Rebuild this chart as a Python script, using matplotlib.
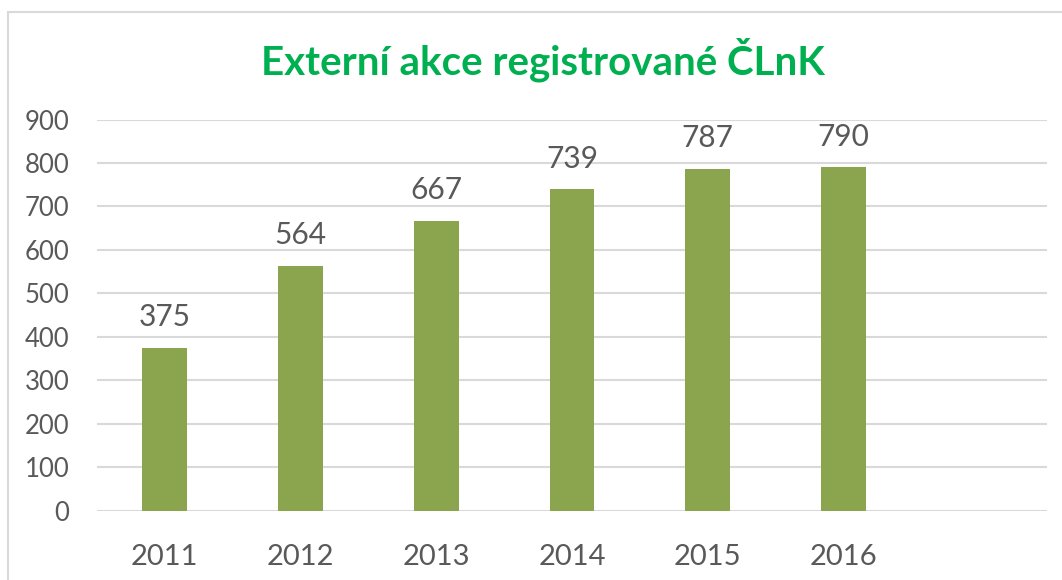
import matplotlib
matplotlib.use("Agg")
import matplotlib.pyplot as plt
from matplotlib.patches import Rectangle

years = ["2011", "2012", "2013", "2014", "2015", "2016"]
values = [375, 564, 667, 739, 787, 790]
yticks = [0, 100, 200, 300, 400, 500, 600, 700, 800, 900]
title = "Externí akce registrované ČLnK"

plt.rcParams['font.family'] = ['Lato', 'DejaVu Sans']

W, H = 1062, 580
fig = plt.figure(figsize=(W / 100, H / 100), dpi=100)
ax = fig.add_axes([97 / W, 1 - 510.7 / H, (1047 - 97) / W, (510.7 - 119.5) / H])

# chart border
fig.add_artist(Rectangle((8 / W, -0.1), 1.2, 1 - 12 / H + 0.1, transform=fig.transFigure,
                         fill=False, edgecolor='#D9D9D9', linewidth=1.5))

x = list(range(len(years)))
bars = ax.bar(x, values, width=0.33, color='#8BA54F', zorder=3)
for xi, v in zip(x, values):
    ax.annotate(str(v), (xi, v), xytext=(0, 12), textcoords='offset points',
                ha='center', va='bottom', fontsize=21.5, color='#595959')

ax.set_xlim(-0.5, 6.5)
ax.set_ylim(0, 900)
ax.set_yticks(yticks)
ax.set_yticklabels([str(t) for t in yticks], fontsize=18.5, color='#595959')
ax.set_xticks(x)
ax.set_xticklabels(years, fontsize=21, color='#595959')
ax.tick_params(axis='y', length=0, pad=20)
ax.tick_params(axis='x', length=0, pad=24)
ax.grid(axis='y', color='#D9D9D9', linewidth=1.5, zorder=0)
ax.set_axisbelow(True)
for s in ax.spines.values():
    s.set_visible(False)

fig.text(543 / W, 1 - 60 / H, title, ha='center', va='center', fontsize=29,
         fontweight='bold', color='#00B050')

fig.savefig("out.png", dpi=100)
